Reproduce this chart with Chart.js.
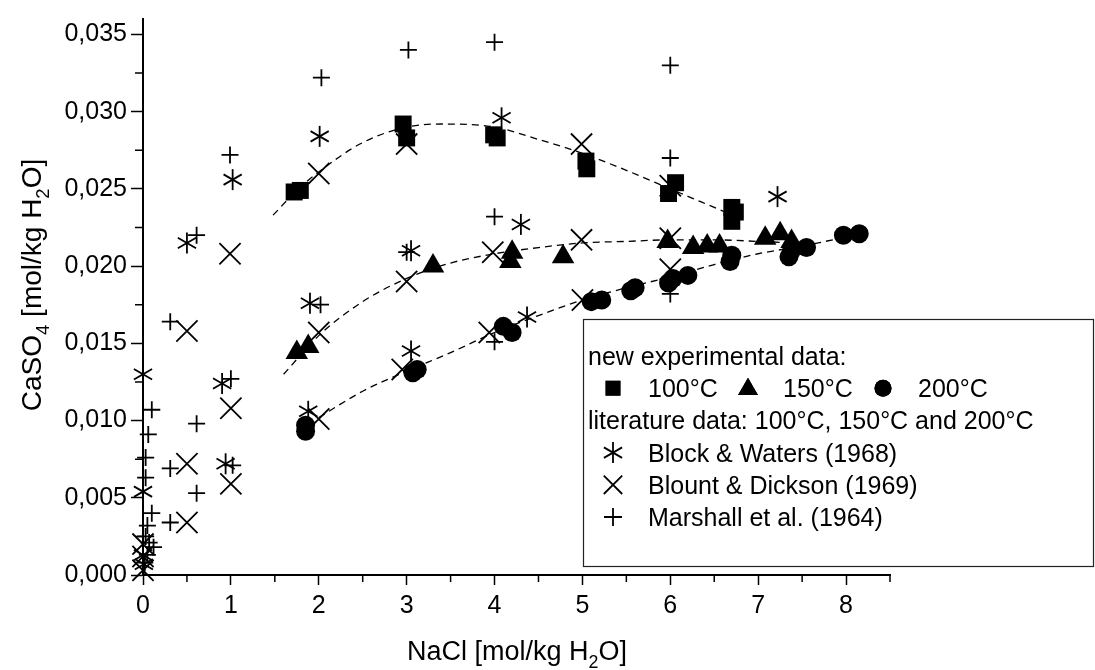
<!DOCTYPE html>
<html><head><meta charset="utf-8">
<script src="https://cdn.jsdelivr.net/npm/chart.js@4/dist/chart.umd.min.js"></script>
<style>html,body{margin:0;padding:0;background:#fff}#wrap{width:1095px;height:670px}</style>
</head><body><div id="wrap"><canvas id="c" width="1095" height="670"></canvas></div>
<script>
// ---- data (NaCl mol/kg H2O  vs  CaSO4 mol/kg H2O) ----
const sq100X = [1.72,1.79,2.96,3.00,3.99,4.03,5.04,5.05,5.98,6.06,6.70,6.74,6.70];
const sq100Y = [0.0248,0.0249,0.0292,0.0283,0.0285,0.0283,0.0268,0.0263,0.0247,0.0254,0.0238,0.0235,0.0229];

const tri150X = [1.75,1.88,3.30,4.20,4.18,4.78,5.97,6.26,6.42,6.56,7.08,7.25,7.38];
const tri150Y = [0.0144,0.0148,0.0200,0.0209,0.0203,0.0206,0.0216,0.0212,0.0213,0.0213,0.0218,0.0221,0.0216];

const cir200X = [1.85,1.85,3.07,3.12,4.10,4.20,5.10,5.22,5.55,5.60,5.98,6.03,6.20,6.68,6.70,7.35,7.38,7.55,7.97,8.15];
const cir200Y = [0.0097,0.0093,0.0131,0.0133,0.0161,0.0157,0.0177,0.0178,0.0184,0.0186,0.0189,0.0192,0.0194,0.0203,0.0207,0.0206,0.0210,0.0212,0.0220,0.0221];

const blockX = [0.00,0.00,0.00,0.01,0.50,1.02,0.90,0.94,2.01,1.90,1.88,3.05,3.05,4.08,4.30,4.37,7.22];
const blockY = [0.0130,0.0054,0.0013,0.0007,0.0215,0.0256,0.0124,0.0072,0.0284,0.0176,0.0106,0.0210,0.0145,0.0296,0.0227,0.0167,0.0245];

const blountX = [0.00,0.00,0.00,0.50,0.50,0.50,0.99,1.00,1.00,2.00,2.00,2.00,3.00,3.00,2.95,3.94,3.98,4.99,4.99,5.00,6.00,6.00,6.00];
const blountY = [0.0020,0.0012,0.0003,0.0158,0.0072,0.0034,0.0208,0.0108,0.0059,0.0260,0.0157,0.0101,0.0279,0.0190,0.0133,0.0157,0.0209,0.0279,0.0217,0.0178,0.0252,0.0218,0.0198];

const marshX = [0.31,0.61,0.99,2.03,3.02,4.00,6.00,6.00,4.00,3.00,2.02,4.00,6.00,1.00,1.02,0.61,0.61,0.31,0.31,0.10,0.06,0.03,0.03,0.10,0.05,0.12,0.03,0.05,0.02,0.07];
const marshY = [0.0164,0.0220,0.0272,0.0322,0.0340,0.0345,0.0330,0.0270,0.0232,0.0209,0.0175,0.0151,0.0182,0.0127,0.0071,0.0098,0.0053,0.0069,0.0034,0.0107,0.0091,0.0076,0.0063,0.0040,0.0032,0.0018,0.0025,0.0013,0.0008,0.0021];

// dashed fit curves
const fit100X = [1.48,1.75,2.0,2.5,3.0,3.4,4.0,4.5,5.0,5.5,6.0,6.5,6.75];
const fit100Y = [0.0233,0.0249,0.0261,0.0280,0.0290,0.0292,0.0290,0.0282,0.0273,0.0262,0.0250,0.0238,0.0232];
const fit150X = [1.6,2.0,2.5,3.0,3.5,4.0,4.5,5.0,5.5,6.0,6.5,7.0,7.4];
const fit150Y = [0.0130,0.0155,0.0177,0.0192,0.0202,0.0208,0.0212,0.0215,0.0216,0.0217,0.0217,0.0216,0.0215];
const fit200X = [2.0,2.5,3.0,3.5,4.0,4.5,5.0,5.5,6.0,6.5,7.0,7.5,8.0,8.2];
const fit200Y = [0.0102,0.0119,0.0132,0.0144,0.0157,0.0168,0.0178,0.0186,0.0193,0.0201,0.0208,0.0213,0.0219,0.0222];

const xTickValues = [0,1,2,3,4,5,6,7,8];
const yTickValues = [0,0.005,0.010,0.015,0.020,0.025,0.030,0.035];

const legendHeader1 = 'new experimental data:';
const legendTemps = ['100°C','150°C','200°C'];
const legendHeader2 = 'literature data: 100°C, 150°C and 200°C';
const legendLit = ['Block & Waters (1968)','Blount & Dickson (1969)','Marshall et al. (1964)'];

const FONT = '"Liberation Sans", Arial, Helvetica, sans-serif';
const pts = (xs, ys) => xs.map((x, i) => ({x, y: ys[i]}));

const AST_R = 10.5;
const litStyle = {showLine:false, borderColor:'#000', backgroundColor:'#000', borderWidth:1.8, order:3, clip:false};
const expStyle = {showLine:false, borderColor:'#000', backgroundColor:'#000', borderWidth:0, order:1, clip:false};
const fitStyle = {showLine:true, pointRadius:0, borderColor:'#000', borderWidth:1.3, borderDash:[7,5], tension:0.4, cubicInterpolationMode:'monotone', fill:false, order:5};

// plugin: minor ticks, axis titles, legend box
const decor = {
  id: 'decor',
  afterDraw(chart) {
    const ctx = chart.ctx, xs = chart.scales.x, ys = chart.scales.y;
    const ca = chart.chartArea;
    ctx.save();
    ctx.strokeStyle = '#000'; ctx.lineWidth = 1.5;
    ctx.beginPath();
    for (let v = 0.5; v <= 8.5; v += 1) {
      const px = xs.getPixelForValue(v);
      ctx.moveTo(px, ca.bottom); ctx.lineTo(px, ca.bottom + 7);
    }
    for (let v = 0.0025; v < 0.036; v += 0.005) {
      const py = ys.getPixelForValue(v);
      ctx.moveTo(ca.left, py); ctx.lineTo(ca.left - 8, py);
    }
    ctx.stroke();

    function richText(parts, size) {
      return parts.map(([t, sub]) => {
        const fs = sub ? size * 0.66 : size;
        ctx.font = fs + 'px ' + FONT;
        return {t, sub, fs, w: ctx.measureText(t).width};
      });
    }
    function drawRich(segs, cx, baseY, size) {
      const total = segs.reduce((a, s) => a + s.w, 0);
      let x = cx - total / 2;
      ctx.fillStyle = '#000'; ctx.textAlign = 'left'; ctx.textBaseline = 'alphabetic';
      for (const s of segs) {
        ctx.font = s.fs + 'px ' + FONT;
        ctx.fillText(s.t, x, baseY + (s.sub ? size * 0.28 : 0));
        x += s.w;
      }
    }
    const xt = richText([['NaCl [mol/kg H',0],['2',1],['O]',0]], 27);
    drawRich(xt, 517, 660, 27);
    const yt = richText([['CaSO',0],['4',1],[' [mol/kg H',0],['2',1],['O]',0]], 28);
    ctx.save();
    ctx.translate(41, 285); ctx.rotate(-Math.PI / 2);
    drawRich(yt, 0, 0, 28);
    ctx.restore();

    // legend
    const bx = 583, by = 319, bw = 510, bh = 247;
    ctx.lineWidth = 1.2; ctx.strokeStyle = '#222';
    ctx.fillStyle = '#fff';
    ctx.strokeRect(bx + 0.5, by + 0.5, bw, bh);
    const LS = 25;
    ctx.font = LS + 'px ' + FONT;
    ctx.fillStyle = '#000'; ctx.textAlign = 'left'; ctx.textBaseline = 'alphabetic';
    const base0 = 365, step = 32.2;
    ctx.fillText(legendHeader1, 588, base0);
    const mcy = base0 + step - 9;
    const H = Chart.helpers;
    ctx.fillStyle = '#000'; ctx.strokeStyle = '#000';
    H.drawPoint(ctx, {pointStyle:'rect', radius:10.5, rotation:0, borderWidth:0}, 613, mcy);
    ctx.fill();
    ctx.fillText(legendTemps[0], 648, base0 + step);
    H.drawPoint(ctx, {pointStyle:'triangle', radius:11.5, rotation:0, borderWidth:0}, 748, mcy + 1);
    ctx.fill();
    ctx.fillText(legendTemps[1], 783, base0 + step);
    H.drawPoint(ctx, {pointStyle:'circle', radius:8.5, rotation:0, borderWidth:0}, 883, mcy);
    ctx.fill();
    ctx.fillText(legendTemps[2], 918, base0 + step);
    ctx.fillText(legendHeader2, 588, base0 + 2 * step);
    ctx.lineWidth = 1.8;
    for (let i = 0; i < 3; i++) {
      const by2 = base0 + (3 + i) * step;
      const my = by2 - 9;
      if (i === 0) {
        for (const rot of [90, 30, -30]) {
          H.drawPoint(ctx, {pointStyle:'line', radius:AST_R, rotation:rot, borderWidth:1.8}, 613, my);
        }
      } else if (i === 1) {
        H.drawPoint(ctx, {pointStyle:'crossRot', radius:13, rotation:0, borderWidth:1.8}, 613, my);
      } else {
        H.drawPoint(ctx, {pointStyle:'cross', radius:9, rotation:0, borderWidth:1.8}, 613, my);
      }
      ctx.fillText(legendLit[i], 648, by2);
    }
    ctx.restore();
  }
};

const astSets = [90, 30, -30].map((rot, k) => ({
  label: k === 0 ? 'Block & Waters (1968)' : 'Block & Waters (1968) arm ' + k,
  data: pts(blockX, blockY), pointStyle:'line', pointRotation:rot, pointRadius:AST_R, ...litStyle
}));

new Chart(document.getElementById('c'), {
  type: 'scatter',
  data: {
    datasets: [
      {label:'100°C', data: pts(sq100X, sq100Y), pointStyle:'rect', pointRadius:12, ...expStyle},
      {label:'150°C', data: pts(tri150X, tri150Y), pointStyle:'triangle', pointRadius:13, ...expStyle},
      {label:'200°C', data: pts(cir200X, cir200Y), pointStyle:'circle', pointRadius:9.5, ...expStyle},
      ...astSets,
      {label:'Blount & Dickson (1969)', data: pts(blountX, blountY), pointStyle:'crossRot', pointRadius:15, ...litStyle},
      {label:'Marshall et al. (1964)', data: pts(marshX, marshY), pointStyle:'cross', pointRadius:8.5, ...litStyle},
      {label:'fit 100', data: pts(fit100X, fit100Y), ...fitStyle},
      {label:'fit 150', data: pts(fit150X, fit150Y), ...fitStyle},
      {label:'fit 200', data: pts(fit200X, fit200Y), ...fitStyle}
    ]
  },
  options: {
    responsive: false,
    animation: false,
    devicePixelRatio: 1,
    layout: {padding: {top: 7, right: 205, left: 0, bottom: 0}},
    plugins: {legend: {display: false}, tooltip: {enabled: false}},
    elements: {point: {hoverRadius: 0}},
    scales: {
      x: {
        type: 'linear', min: 0, max: 8.5,
        afterFit: s => { s.height = 95; },
        afterBuildTicks: s => { s.ticks = xTickValues.map(v => ({value: v})); },
        border: {display: true, color: '#000', width: 2},
        grid: {display: true, drawOnChartArea: false, drawTicks: true, tickLength: 10, tickWidth: 1.5, tickColor: '#000'},
        ticks: {color: '#000', font: {family: FONT, size: 25}, padding: 6, maxRotation: 0,
          callback: v => String(v)}
      },
      y: {
        type: 'linear', min: 0, max: 0.036,
        afterFit: s => { s.width = 143; },
        afterBuildTicks: s => { s.ticks = yTickValues.map(v => ({value: v})); },
        border: {display: true, color: '#000', width: 2},
        grid: {display: true, drawOnChartArea: false, drawTicks: true, tickLength: 12, tickWidth: 1.5, tickColor: '#000'},
        ticks: {color: '#000', font: {family: FONT, size: 25}, padding: 4,
          callback: v => v.toFixed(3).replace('.', ',')}
      }
    }
  },
  plugins: [decor]
});
</script>
</body></html>
